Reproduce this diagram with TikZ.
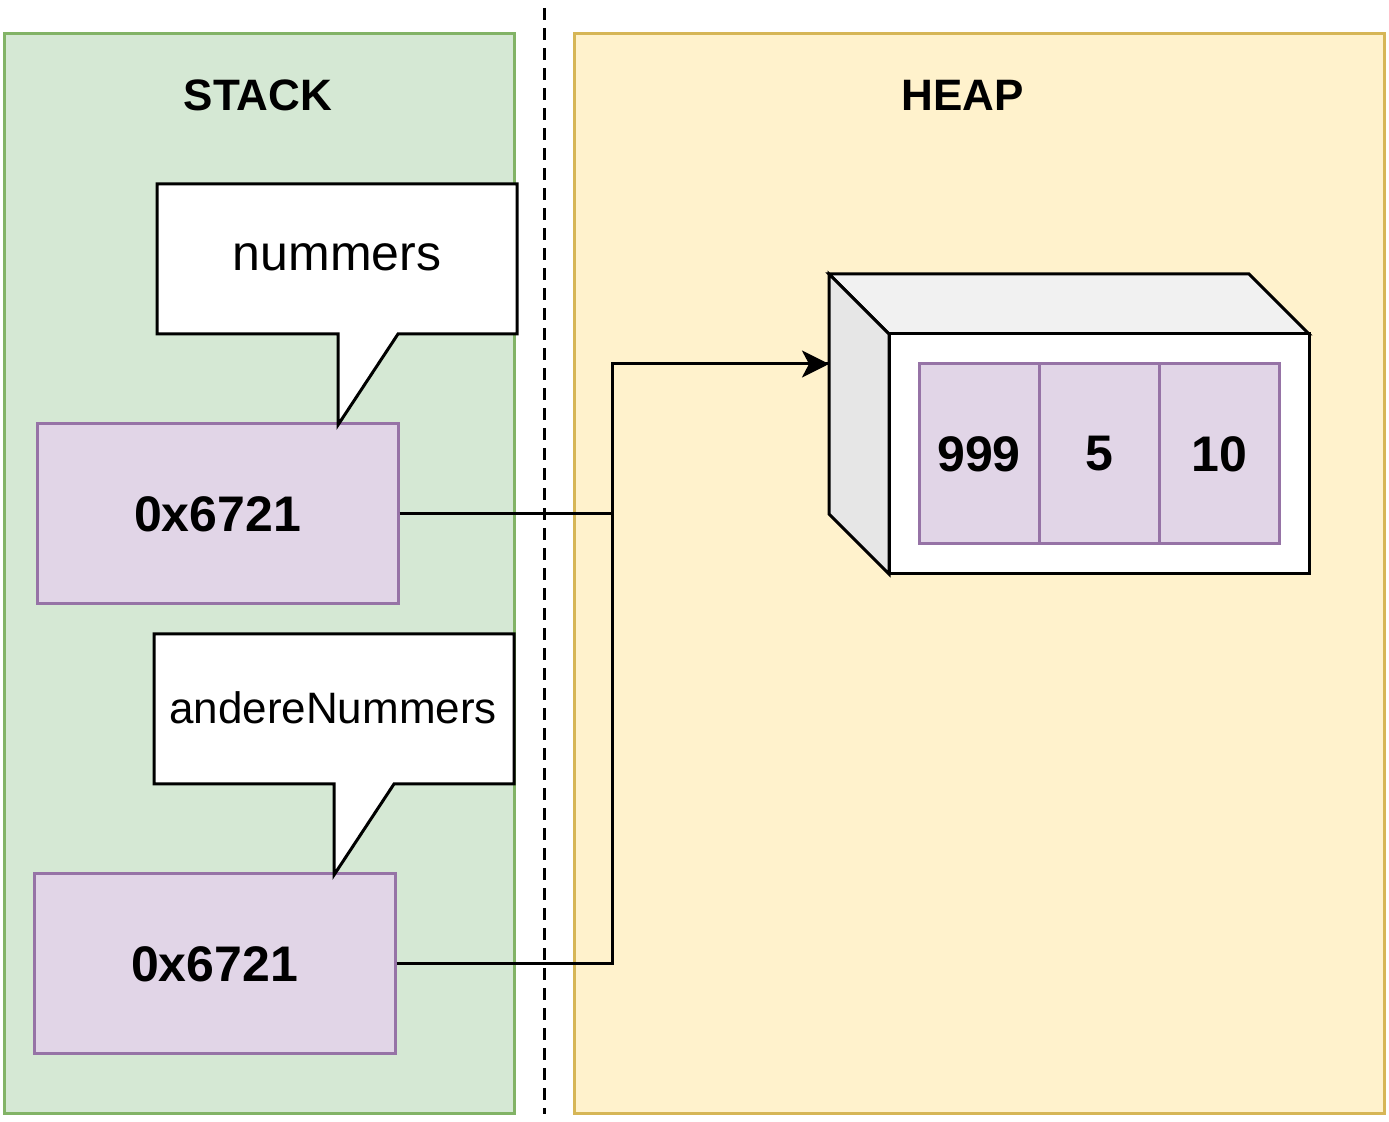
\documentclass[tikz,border=0pt]{standalone}
\usepackage{fontspec}
\setmainfont{Liberation Sans}
\usetikzlibrary{arrows.meta}
\usetikzlibrary{positioning}

\begin{document}
\begin{tikzpicture}[x=0.5pt,y=-0.5pt]

		    \definecolor{stackfill}{HTML}{D5E8D4}
		    \definecolor{stackline}{HTML}{82B366}
		    \definecolor{heapfill}{HTML}{FFF2CC}
		    \definecolor{heapline}{HTML}{D6B656}
		    \definecolor{reffill}{HTML}{E1D5E7}
		    \definecolor{refline}{HTML}{9673A6}
		    \definecolor{boxtop}{HTML}{F1F1F1}
		    \definecolor{boxside}{HTML}{E6E6E6}
		    \tikzset{
		      area/.style={line width=1.5pt},
		      ref/.style={draw=refline,fill=reffill,line width=1.5pt,minimum width=180.5pt,minimum height=90pt,inner sep=0pt,font=\bfseries\fontsize{25}{30}\selectfont},
		      cell/.style={draw=refline,fill=reffill,line width=1.5pt,minimum width=60pt,minimum height=90pt,inner sep=0pt,font=\bfseries\fontsize{25}{30}\selectfont},
		      callout/.style={draw,fill=white,line width=1.5pt,line join=miter},
		      title/.style={font=\bfseries\fontsize{22}{26}\selectfont},
		      link/.style={line width=1.5pt}
		    }

		    \useasboundingbox (0,0) rectangle (1389,1122);

		    % the two memory areas
		    \draw[area,draw=stackline,fill=stackfill] (4,34) rectangle (514,1114);
		    \draw[area,draw=heapline,fill=heapfill] (574,34) rectangle (1384,1114);
		    \draw[line width=1.5pt,dash pattern=on 6pt off 4pt] (544,8) -- (544,1114);
		    \node(stacktitle) [title] at (258,95) {STACK};
		    \node(heaptitle) [title] at (963,95) {HEAP};

		    % references on the stack
		    \node(ref1) [ref] at (217.5,514) {0x6721};
		    \node(ref2) [ref] at (214.5,964) {0x6721};

		    \draw[callout] (157,184) -- (517,184) -- (517,334) -- (398,334) -- (338,425) -- (338,334) -- (157,334) -- cycle;
		    \node(name1) [font=\fontsize{25}{30}\selectfont] at (337,257) {nummers};
		    \draw[callout] (154,634) -- (514,634) -- (514,784) -- (394,784) -- (334,875) -- (334,784) -- (154,784) -- cycle;
		    \node(name2) [font=\fontsize{22}{26}\selectfont] at (333,708) {andereNummers};

		    % array object on the heap
		    \draw[callout,fill=boxtop] (829,274) -- (1249,274) -- (1309,334) -- (889,334) -- cycle;
		    \draw[callout,fill=boxside] (829,274) -- (889,334) -- (889,574) -- (829,514) -- cycle;
		    \node(array) [draw,fill=white,line width=1.5pt,minimum width=210pt,minimum height=120pt,inner sep=0pt] at (1099,454) {};
		    \coordinate (target) at (829,364);

		    \node(v1) [cell] at (979,454) {999};
		    \node(v2) [cell,right=-1.5pt of v1] {5};
		    \node(v3) [cell,right=-1.5pt of v2] {10};

		    \draw[link] (ref2.east) -- (612,964) -- (612,364) -- (target);
		    \draw[link,-{Stealth[length=13.5pt,width=13.5pt,inset=3.5pt]}] (ref1.east) -- (612,514) -- (612,364) -- (target);

\end{tikzpicture}
\end{document}
